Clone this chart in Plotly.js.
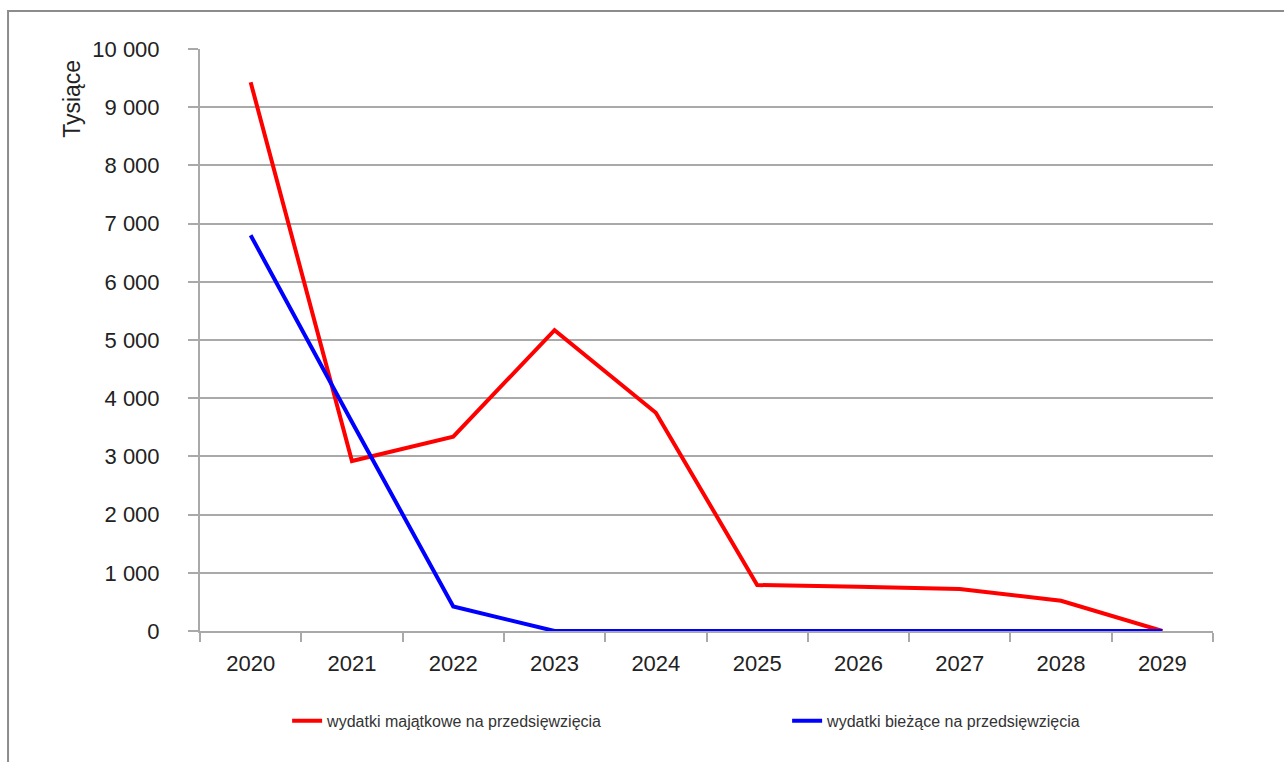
<!DOCTYPE html>
<html>
<head>
<meta charset="utf-8">
<script src="https://cdn.plot.ly/plotly-3.0.1.min.js"></script>
<style>html,body{margin:0;padding:0;background:#fff;}#chart{width:1284px;height:762px;}</style>
</head>
<body>
<div id="chart"></div>
<script>
var years = ["2020","2021","2022","2023","2024","2025","2026","2027","2028","2029"];
var wydatkiMajatkowe = [9430, 2920, 3340, 5170, 3750, 790, 760, 720, 520, 0];
var wydatkiBiezace = [6800, 3590, 420, 0, 0, 0, 0, 0, 0, 0];
var seriesNames = ["wydatki majątkowe na przedsięwzięcia", "wydatki bieżące na przedsięwzięcia"];
var yTickVals = [0,1000,2000,3000,4000,5000,6000,7000,8000,9000,10000];
var yTitle = "Tysiące";

var font = "Liberation Sans, Arial, sans-serif";
var grid = "#a9a9a9";

var traces = [
  {x: years, y: wydatkiMajatkowe, name: seriesNames[0], type: "scatter", mode: "lines",
   line: {color: "#ff0000", width: 4}},
  {x: years, y: wydatkiBiezace, name: seriesNames[1], type: "scatter", mode: "lines",
   line: {color: "#0000ff", width: 4}}
];

var layout = {
  width: 1284, height: 762,
  margin: {l: 200, r: 71, t: 49, b: 131, autoexpand: false},
  paper_bgcolor: "#ffffff", plot_bgcolor: "#ffffff",
  separators: ", ",
  font: {family: font, color: "#222"},
  showlegend: true,
  legend: {orientation: "h", x: 0.086, y: -0.125, xanchor: "left", yanchor: "top",
    entrywidth: 455, entrywidthmode: "pixels",
    font: {family: font, size: 16, color: "#333"}, bgcolor: "rgba(0,0,0,0)"},
  xaxis: {type: "category", range: [-0.5, 9.5], tickson: "boundaries", ticks: "outside",
    ticklen: 9, tickwidth: 2, tickcolor: grid, showgrid: false, showline: true,
    linecolor: grid, linewidth: 2, zeroline: false,
    tickfont: {family: font, size: 22, color: "#222"}, ticklabelstandoff: 12, fixedrange: true},
  yaxis: {range: [0, 10000], tickvals: yTickVals, tickformat: ",d", ticks: "outside",
    ticklen: 10, tickwidth: 2, tickcolor: grid, showgrid: true, gridcolor: grid, gridwidth: 2,
    showline: true, linecolor: grid, linewidth: 2, zeroline: false,
    tickfont: {family: font, size: 22, color: "#222"}, ticklabelstandoff: 24, fixedrange: true},
  annotations: [
    {text: yTitle, xref: "paper", yref: "paper", x: -0.126, y: 0.915, textangle: -90,
     showarrow: false, xanchor: "center", yanchor: "middle",
     font: {family: font, size: 23, color: "#222"}}
  ],
  shapes: [
    {type: "rect", xref: "paper", yref: "paper", x0: -0.1895, x1: 1.08, y0: -0.25, y1: 1.0653,
     line: {color: "#8c8c8c", width: 2}, fillcolor: "rgba(0,0,0,0)", layer: "below"}
  ]
};

Plotly.newPlot("chart", traces, layout, {staticPlot: true, displayModeBar: false});
</script>
</body>
</html>
